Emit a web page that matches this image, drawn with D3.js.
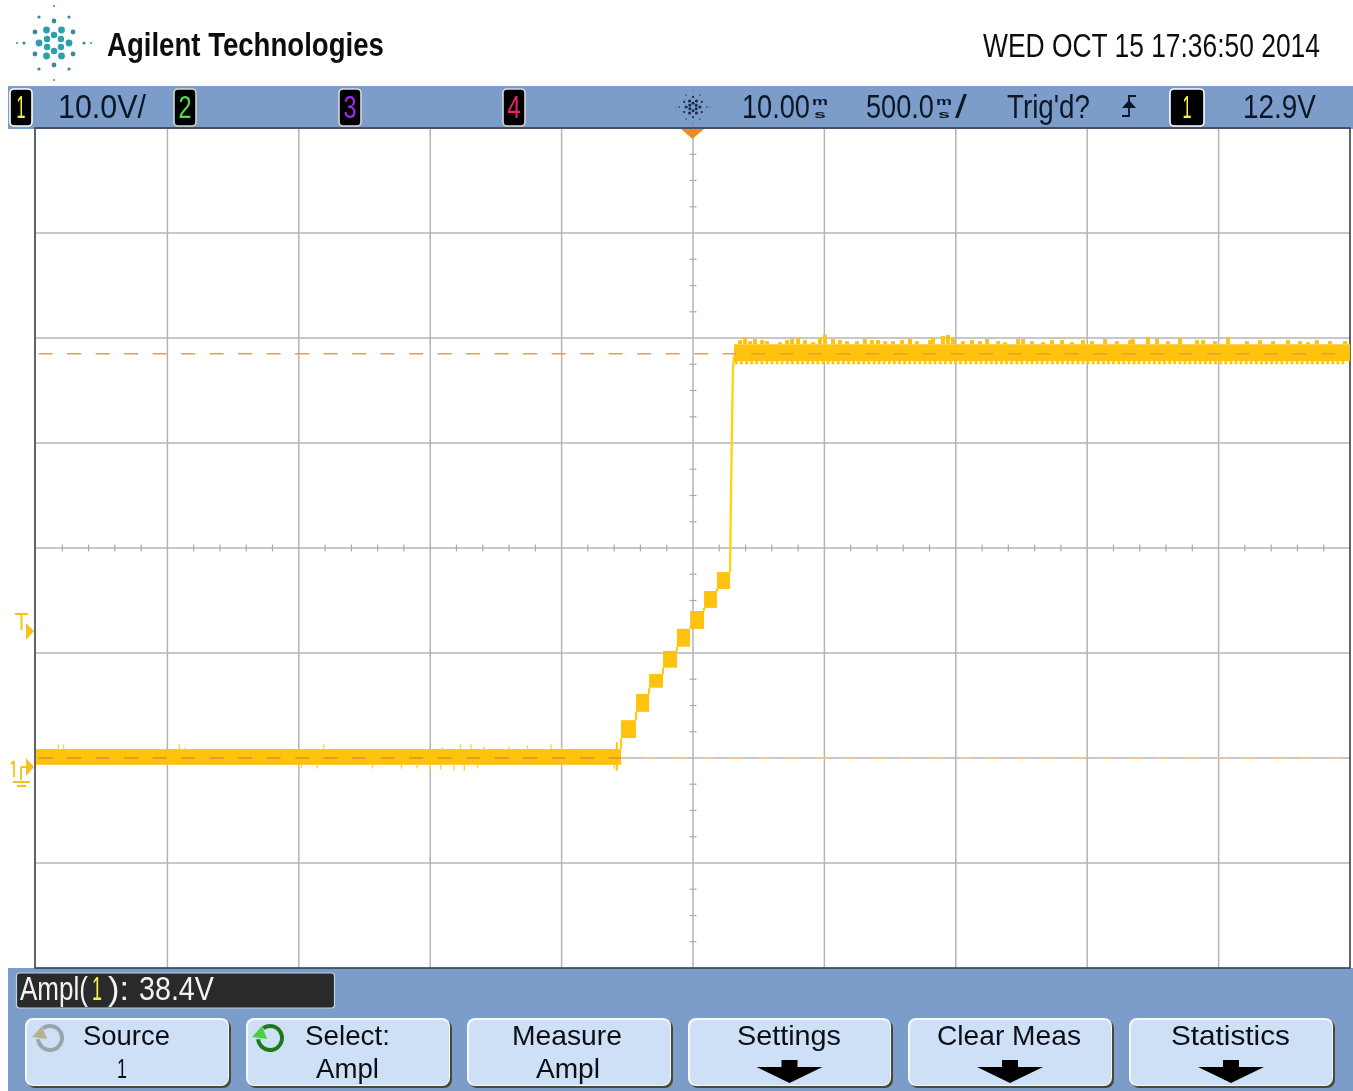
<!DOCTYPE html>
<html><head><meta charset="utf-8">
<style>html,body{margin:0;padding:0;background:#fff}svg{display:block}text{font-family:"Liberation Sans Narrow","Liberation Sans",sans-serif}</style>
<script src="https://cdn.jsdelivr.net/npm/d3@7/dist/d3.min.js"></script>
</head><body><svg id="c" width="1353" height="1091"></svg>
<script>
// ---- data: time in ms, amplitude in V ----
const timeDomain = [-2490, 2510];
const voltDomain = [-20, 60];
const timeGrid = [-2490,-1990,-1490,-990,-490,10,510,1010,1510,2010,2510];
const voltGrid = [-20,-10,0,10,20,30,40,50,60];
const voltMinor = [2.5,5,7.5,12.5,15,17.5,22.5,25,27.5,32.5,35,37.5,42.5,45,47.5,-2.5,-5,-7.5,-12.5,-15,-17.5,52.5,55,57.5];
const timeMinor = [-2390,-2290,-2190,-2090,-1890,-1790,-1690,-1590,-1390,-1290,-1190,-1090,-890,-790,-690,-590,-390,-290,-190,-90,110,210,310,410,610,710,810,910,1110,1210,1310,1410,1610,1710,1810,1910,2110,2210,2310,2410];
const stepTime = [-2490,-264,-207,-157,-104,-51,-1,52,101,151];
const stepMin  = [-0.65,1.9,4.4,6.7,8.6,10.6,12.3,14.3,16.1];
const stepMax  = [0.85,3.6,6.1,8.0,10.2,12.3,14.0,15.9,17.7];
const rampTime = [151,154,158,162,166];
const rampVolt = [17.7,24,31,37,38.3];
const highStart = 166, highEnd = 2510, highMin = 37.8, highMax = 39.4;
const highPeakTime = [189,208,227,246,273,292,341,368,387,410,436,467,493,512,543,569,596,634,664,691,714,741,771,805,836,862,912,923,961,980,999,1037,1072,1102,1129,1171,1197,1247,1266,1300,1342,1376,1414,1452,1494,1528,1578,1623,1673,1684,1741,1776,1817,1863,1928,1951,1996,2046,2118,2167,2217,2274,2320,2350,2384,2434,2491];
const highPeakVolt = [39.8,40.1,39.7,39.9,39.8,39.7,39.6,39.8,39.9,40.0,39.8,39.6,40.0,40.3,39.9,39.8,39.7,39.7,39.9,39.8,39.8,39.7,39.7,39.8,39.9,39.7,39.8,40.0,40.2,40.3,40.0,39.7,39.8,39.7,39.9,39.7,39.6,39.9,39.9,39.7,39.6,39.8,39.8,39.6,39.8,39.7,39.9,39.7,39.8,39.9,40.1,39.9,39.7,40.0,39.8,39.8,39.7,40.1,39.7,39.8,39.7,39.8,39.7,39.6,39.8,39.7,39.7];
const highToothTime = [175,194,214,233,252,272,291,311,330,349,369,388,408,427,446,466,485,505,524,543,563,582,602,621,640,660,679,699,718,737,757,776,796,815,834,854,873,893,912,931,951,970,990,1009,1028,1048,1067,1087,1106,1125,1145,1164,1184,1203,1222,1242,1261,1281,1300,1319,1339,1358,1378,1397,1416,1436,1455,1475,1494,1513,1533,1552,1572,1591,1610,1630,1649,1669,1688,1707,1727,1746,1766,1785,1804,1824,1843,1863,1882,1901,1921,1940,1960,1979,1998,2018,2037,2057,2076,2095,2115,2134,2154,2173,2192,2212,2231,2251,2270,2289,2309,2328,2348,2367,2386,2406,2425,2445,2464,2483];
const highToothVolt = 37.5;
const lowPeakTime = [-2405,-2385,-1945,-1925,-1490,-1395,-945,-875,-835,-785,-690,-620,-530,-490];
const lowPeakVolt = [1.3,1.3,1.3,1.0,1.0,1.3,1.0,1.3,1.3,1.1,1.1,1.2,1.3,1.1];
const lowDipTime = [-1480,-1420,-1210,-1100,-1040,-990,-950,-900,-860,-810,-290];
const lowDipVolt = [-1.0,-1.0,-1.0,-1.0,-1.0,-1.2,-1.1,-1.2,-1.2,-1.0,-1.0];
const triggerSpike = {time:-280, min:-1.2, max:1.5};
const amplTop = 38.5, amplBase = 0;

const headerLabels = [
 {t:"Agilent Technologies",x:107,y:56,w:277,s:33,b:1,c:"#111"},
 {t:"WED OCT 15 17:36:50 2014",x:983,y:57,w:337,s:33,c:"#111"},
 {t:"10.0V/",x:58,y:118,w:88,s:34,c:"#101828"},
 {t:"10.00",x:742,y:118,w:68,s:34,c:"#101828"},
 {t:"500.0",x:866,y:118,w:68,s:34,c:"#101828"},
 {t:"/",x:955,y:118,w:12,s:34,c:"#101828"},
 {t:"Trig'd?",x:1007,y:118,w:83,s:34,c:"#101828"},
 {t:"12.9V",x:1243,y:118,w:73,s:34,c:"#101828"}
];
const channelBadges = [
 {t:"1",x:10,w:22,g:9,c:"#f5f04a",b:"#fff"},
 {t:"2",x:174,w:22,g:13,c:"#4fe04a",b:"#cfd8c8"},
 {t:"3",x:339,w:22,g:13,c:"#9a2cf0",b:"#d8d8d8"},
 {t:"4",x:503,w:22,g:13,c:"#ea2070",b:"#d8d8d8"},
 {t:"1",x:1170,w:34,g:9,c:"#f5f04a",b:"#fff"}
];
const softKeys = [
 {x:25,w:204,a:"Source",aw:87,ax:83,b:"1",bw:10,bx:117},
 {x:246,w:204,a:"Select:",aw:85,ax:305,b:"Ampl",bw:63,bx:316},
 {x:467,w:204,a:"Measure",aw:110,ax:512,b:"Ampl",bw:64,bx:536},
 {x:688,w:203,a:"Settings",aw:104,ax:737},
 {x:908,w:204,a:"Clear Meas",aw:144,ax:937},
 {x:1129,w:204,a:"Statistics",aw:119,ax:1171}
];
const readout = [
 {t:"Ampl(",x:20,w:68,c:"#f2f2f2"},
 {t:"1",x:92,w:10,c:"#f5f04a"},
 {t:"):",x:108,w:21,c:"#f2f2f2"},
 {t:"38.4V",x:139,w:75,c:"#f2f2f2"}
];
const logoRings = [[8,3.2],[15,3.4],[22,2.4],[30,1.6],[37,1.0]];

// ---- scales ----
const svg = d3.select("#c");
const x = d3.scaleLinear().domain(timeDomain).range([36,1350]);
const y = d3.scaleLinear().domain(voltDomain).range([968,128]);
const gold = "#ffc20a";

const defs = svg.append("defs");
defs.append("filter").attr("id","soft").append("feGaussianBlur").attr("stdDeviation",0.45);
defs.append("filter").attr("id","softer").append("feGaussianBlur").attr("stdDeviation",0.65);

// panels
const bg = svg.append("g");
bg.append("rect").attr("x",8).attr("y",86).attr("width",1345).attr("height",43).attr("fill","#7c9dca");
bg.append("rect").attr("x",8).attr("y",968).attr("width",1345).attr("height",123).attr("fill","#7c9dca");

// grid
const grid = svg.append("g").attr("filter","url(#soft)");
grid.selectAll(".v").data(timeGrid.slice(1,-1)).join("line")
 .attr("x1",d=>x(d)).attr("x2",d=>x(d)).attr("y1",y(60)).attr("y2",y(-20)).attr("stroke","#b4b4b4").attr("stroke-width",1.5);
grid.selectAll(".h").data(voltGrid.slice(1,-1)).join("line")
 .attr("x1",x(timeDomain[0])).attr("x2",x(timeDomain[1])).attr("y1",d=>y(d)).attr("y2",d=>y(d)).attr("stroke","#b4b4b4").attr("stroke-width",1.5);
grid.selectAll(".tv").data(voltMinor).join("line")
 .attr("x1",x(10)-3.5).attr("x2",x(10)+3.5).attr("y1",d=>y(d)).attr("y2",d=>y(d)).attr("stroke","#aaa").attr("stroke-width",1.2);
grid.selectAll(".th").data(timeMinor).join("line")
 .attr("y1",y(20)-3.5).attr("y2",y(20)+3.5).attr("x1",d=>x(d)).attr("x2",d=>x(d)).attr("stroke","#aaa").attr("stroke-width",1.2);

// border
const fr = svg.append("g").attr("filter","url(#soft)");
fr.append("rect").attr("x",35).attr("y",128).attr("width",1315).attr("height",840).attr("fill","none").attr("stroke","#3a3f48").attr("stroke-width",1.6);

// trace
const tr = svg.append("g").attr("filter","url(#softer)");
const ampLine = d3.line().x(d=>x(d[0])).y(d=>y(d[1]));
tr.append("path").attr("d",ampLine(rampTime.map((t,i)=>[t,rampVolt[i]]))).attr("fill","none").attr("stroke","#ffd414").attr("stroke-width",2.4);
const stepRows = stepMin.map((m,i)=>({t0:stepTime[i],t1:stepTime[i+1],min:m,max:stepMax[i],next:stepMin[i+1]}));
tr.selectAll(".riser").data(stepRows.slice(0,-1)).join("line")
 .attr("x1",d=>x(d.t1)).attr("x2",d=>x(d.t1)).attr("y1",d=>y(d.max)).attr("y2",d=>y(d.next)).attr("stroke","#ffcc10").attr("stroke-width",2.2);
tr.selectAll(".step").data(stepRows).join("rect")
 .attr("x",d=>x(d.t0)).attr("width",d=>x(d.t1)-x(d.t0)).attr("y",d=>y(d.max)).attr("height",d=>y(d.min)-y(d.max)).attr("fill",gold);
tr.append("rect").attr("x",x(highStart)).attr("width",x(highEnd)-x(highStart)).attr("y",y(highMax)).attr("height",y(highMin)-y(highMax)).attr("fill",gold);
const spikes = (ts,a,vs)=>ts.map((t,i)=>({t,a,v:Array.isArray(vs)?vs[i]:vs}));
tr.selectAll(".sp").data(spikes(highPeakTime,highMax,highPeakVolt)).join("line")
 .attr("x1",d=>x(d.t)).attr("x2",d=>x(d.t)).attr("y1",d=>y(d.a)).attr("y2",d=>y(d.v)).attr("stroke",gold).attr("stroke-width",4);
tr.selectAll(".to").data(spikes(highToothTime,highMin,highToothVolt)).join("line")
 .attr("x1",d=>x(d.t)).attr("x2",d=>x(d.t)).attr("y1",d=>y(d.a)).attr("y2",d=>y(d.v)).attr("stroke",gold).attr("stroke-width",2.8);
tr.selectAll(".lp").data(spikes(lowPeakTime,stepMax[0],lowPeakVolt)).join("line")
 .attr("x1",d=>x(d.t)).attr("x2",d=>x(d.t)).attr("y1",d=>y(d.a)).attr("y2",d=>y(d.v)).attr("stroke","#ffd040").attr("stroke-width",1.4);
tr.selectAll(".ld").data(spikes(lowDipTime,stepMin[0],lowDipVolt)).join("line")
 .attr("x1",d=>x(d.t)).attr("x2",d=>x(d.t)).attr("y1",d=>y(d.a)).attr("y2",d=>y(d.v)).attr("stroke","#ffd040").attr("stroke-width",1.4);
tr.append("line").attr("x1",x(triggerSpike.time)).attr("x2",x(triggerSpike.time)).attr("y1",y(triggerSpike.min)).attr("y2",y(triggerSpike.max)).attr("stroke",gold).attr("stroke-width",2);

// cursors (amplitude levels)
const cur = svg.append("g").attr("filter","url(#soft)");
cur.append("line").attr("x1",x(-2480)).attr("x2",x(highEnd)).attr("y1",y(amplTop)).attr("y2",y(amplTop)).attr("stroke","#ee9a40").attr("stroke-width",1.4).attr("stroke-dasharray","14 14.5");
cur.append("line").attr("x1",x(-2480)).attr("x2",x(-264)).attr("y1",y(amplBase)).attr("y2",y(amplBase)).attr("stroke","#e0902a").attr("stroke-width",1.4).attr("stroke-dasharray","14 14.5");
cur.append("line").attr("x1",x(-264)).attr("x2",1340).attr("y1",y(amplBase)).attr("y2",y(amplBase)).attr("stroke","#f8c890").attr("stroke-width",1.5).attr("stroke-dasharray","14 14.5").attr("stroke-dashoffset",6);

// markers
const mk = svg.append("g").attr("filter","url(#soft)");
mk.append("path").attr("d","M681,129H704L692.5,139Z").attr("fill","#f08a24");
mk.append("path").attr("d","M26,623L34,631L26,640Z").attr("fill","#f5c21a");
mk.append("path").attr("d","M26,758L34,767L26,776Z").attr("fill","#f5c21a");
mk.append("path").attr("d","M15,614H28M21.5,614V630").attr("stroke","#f5c21a").attr("stroke-width",2).attr("fill","none");
mk.append("path").attr("d","M14,761V777M11,764L14,761M21,767H26M21,767V780M13,782H30M17,786H26").attr("stroke","#f5c21a").attr("stroke-width",1.8).attr("fill","none");

// header + labels
const ui = svg.append("g").attr("filter","url(#soft)");
// each label is squeezed horizontally to the condensed width of the instrument font
function label(g,d){
 const t = g.append("text").attr("font-size",d.s).attr("font-weight",d.b?"bold":"normal").attr("fill",d.c).text(d.t);
 const sx = d.w / t.node().getComputedTextLength();
 t.attr("transform",`translate(${d.x},${d.y}) scale(${sx},1)`);
 return t;
}
headerLabels.forEach(d=>label(ui,d));
// stacked m/s units
[820,944].forEach(cx=>{
 label(ui,{t:"m",x:cx-8,y:105,w:16,s:11,b:1,c:"#101828"});
 label(ui,{t:"s",x:cx-6,y:118,w:12,s:11,b:1,c:"#101828"});
});
// trigger edge symbol
ui.append("path").attr("d","M1122,116H1129V96H1136").attr("stroke","#101828").attr("stroke-width",1.8).attr("fill","none");
ui.append("path").attr("d","M1122,108L1129,100L1136,108Z").attr("fill","#101828");

// badges
channelBadges.forEach(d=>{
 ui.append("rect").attr("x",d.x).attr("y",89).attr("width",d.w).attr("height",37).attr("rx",4).attr("fill","#050505").attr("stroke",d.b).attr("stroke-width",1.6);
 label(ui,{t:d.t,x:d.x+(d.w-d.g)/2,y:118,w:d.g,s:32,c:d.c});
});

// sparks
function spark(g,cx,cy,scale,color,dark){
 const n = 12;
 logoRings.forEach(([r,s],ri)=>{
  d3.range(n).forEach(k=>{
   if((ri%2===0)===(k%2===0) && ri<4 || ri===4 && k%3===0 ){
    const a = k*Math.PI*2/n - Math.PI/2;
    g.append("circle").attr("cx",cx+Math.cos(a)*r*scale).attr("cy",cy+Math.sin(a)*r*scale).attr("r",s*scale).attr("fill",ri<2?color:dark);
   }
  });
 });
}
spark(ui,54,43,1,"#2aa0ac","#3c8a96");
spark(ui,693,107,0.46,"#1a2a4a","#1a2a4a");

// readout
ui.append("rect").attr("x",16.5).attr("y",973).attr("width",318).attr("height",35).attr("rx",3).attr("fill","#2a2a2a").attr("stroke","#c4d0e0").attr("stroke-width",1.2);
readout.forEach(d=>label(ui,{t:d.t,x:d.x,y:1000,w:d.w,s:33,c:d.c}));

// softkeys
softKeys.forEach(d=>{
 ui.append("rect").attr("x",d.x+2).attr("y",1020).attr("width",d.w).attr("height",68).attr("rx",8).attr("fill","#4a4a30");
 ui.append("rect").attr("x",d.x).attr("y",1018).attr("width",d.w).attr("height",68).attr("rx",8).attr("fill","#f4f8fd");
 ui.append("rect").attr("x",d.x+2).attr("y",1020).attr("width",d.w-3).attr("height",65).attr("rx",7).attr("fill","#cde0f6");
 label(ui,{t:d.a,x:d.ax,y:1045,w:d.aw,s:28.5,c:"#0c1018"});
 if(d.b) label(ui,{t:d.b,x:d.bx,y:1078,w:d.bw,s:28.5,c:"#0c1018"});
 else {
  const c = d.x+d.w/2;
  ui.append("path").attr("d",`M${c-8},1060H${c+8}V1067H${c+33}L${c},1083L${c-33},1067H${c-8}Z`).attr("fill","#000");
 }
});
// entry knob icons
function knob(cx,cy,stroke,fill){
 ui.append("path").attr("d",d3.arc()({innerRadius:10,outerRadius:14,startAngle:-0.6,endAngle:4.6})).attr("transform",`translate(${cx},${cy})`).attr("fill",stroke);
 ui.append("path").attr("d",`M${cx-18},${cy-1}L${cx-8},${cy-12}L${cx-3},${cy+1}Z`).attr("fill",fill);
}
knob(50,1038,"#9aa4aa","#b8b090");
knob(270,1038,"#1a7a1a","#46d046");
</script></body></html>
